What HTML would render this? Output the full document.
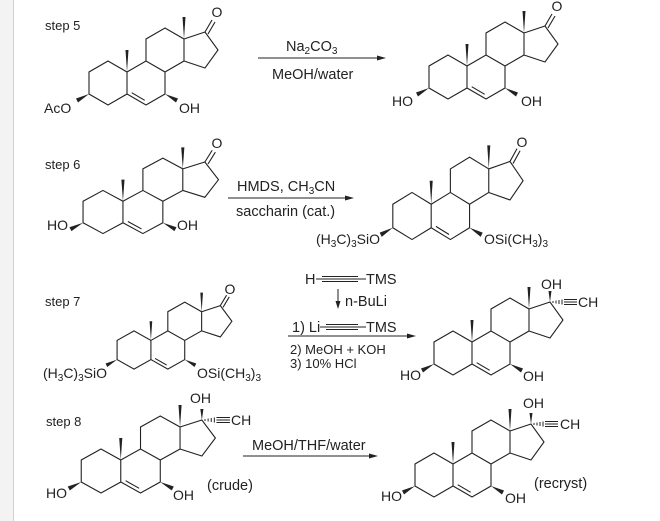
<!DOCTYPE html>
<html><head><meta charset="utf-8"><style>
html,body{margin:0;padding:0;background:#fff;}
svg{display:block;}
text{font-family:"Liberation Sans",Arial,sans-serif;font-size:14px;fill:#222;}
.r{font-size:14.5px;}
.r2{font-size:13px;}
.st{font-size:13px;}
.s{font-size:10px;}
</style></head><body>
<svg width="660" height="521" viewBox="0 0 660 521" xmlns="http://www.w3.org/2000/svg">
<rect x="0" y="0" width="13" height="521" fill="#f3f3f3"/>
<line x1="13.5" y1="0" x2="13.5" y2="521" stroke="#d0d0d0" stroke-width="1"/>
<defs>
<g id="core">
<path d="M0,-22 L-19,-11 L-19,11 L0,22 L19,11 L19,-11 Z M19,11 L38,22 L57,11 L57,-11 L38,-22 L19,-11 M38,-22 L38,-44 L57,-55 L76,-44 L76,-22 L57,-11 M76,-44 L97,-51 L110,-33 L97,-15 L76,-22 M23.7,9.7 L36.7,17.3" fill="none" stroke="#222" stroke-width="1.1" vector-effect="non-scaling-stroke"/>
<polygon points="19,-11 17.5,-33 20.5,-33" fill="#222"/>
<polygon points="76,-44 74.5,-66 77.5,-66" fill="#222"/>
<polygon points="-19,11 -32,15.5 -30,19.5" fill="#222"/>
<polygon points="57,11 68,19.5 70,15.5" fill="#222"/>
</g>
<g id="keto">
<path d="M97,-51 L104,-63 M100,-49 L107,-61" fill="none" stroke="#222" stroke-width="1.1" vector-effect="non-scaling-stroke"/>
</g>
<g id="ethy">
<polygon points="97,-51 95.5,-62 98.5,-62" fill="#222"/>
<path d="M100,-52 L100,-50 M103,-52.5 L103,-49.5 M106,-53 L106,-49 M109,-53.5 L109,-48.5 M111,-51 L124,-51 M111,-53.5 L124,-53.5 M111,-48.5 L124,-48.5" fill="none" stroke="#222" stroke-width="1" vector-effect="non-scaling-stroke"/>
</g>
</defs>

<!-- step 5 -->
<text class="st" x="45" y="30">step 5</text>
<use href="#core" transform="translate(108,83)"/>
<use href="#keto" transform="translate(108,83)"/>
<text x="217" y="17" text-anchor="middle">O</text>
<text x="44" y="113">AcO</text>
<text x="179" y="113">OH</text>
<text class="r" x="286" y="51">Na<tspan class="s" dy="3">2</tspan><tspan dy="-3">CO</tspan><tspan class="s" dy="3">3</tspan></text>
<line x1="258" y1="58" x2="380" y2="58" stroke="#222" stroke-width="1"/>
<polygon points="386,58 377,55.5 377,60.5" fill="#222"/>
<text class="r" x="272" y="79">MeOH/water</text>

<use href="#core" transform="translate(448,77)"/>
<use href="#keto" transform="translate(448,77)"/>
<text x="557" y="11" text-anchor="middle">O</text>
<text x="392" y="106">HO</text>
<text x="521" y="106">OH</text>

<!-- step 6 -->
<text class="st" x="45" y="169">step 6</text>
<use href="#core" transform="translate(103,212) scale(1.05,0.98)"/>
<use href="#keto" transform="translate(103,212) scale(1.05,0.98)"/>
<text x="217" y="148" text-anchor="middle">O</text>
<text x="47" y="230">HO</text>
<text x="177" y="230">OH</text>
<text class="r" x="237" y="191">HMDS, CH<tspan class="s" dy="3">3</tspan><tspan dy="-3">CN</tspan></text>
<line x1="228" y1="198" x2="348" y2="198" stroke="#222" stroke-width="1"/>
<polygon points="354,198 345,195.5 345,200.5" fill="#222"/>
<text class="r" x="236" y="216">saccharin (cat.)</text>

<use href="#core" transform="translate(412,216) scale(1.01,1.07)"/>
<use href="#keto" transform="translate(412,216) scale(1.01,1.07)"/>
<text x="522" y="147" text-anchor="middle">O</text>
<text x="380" y="244" text-anchor="end">(H<tspan class="s" dy="3">3</tspan><tspan dy="-3">C)</tspan><tspan class="s" dy="3">3</tspan><tspan dy="-3">SiO</tspan></text>
<text x="484" y="244">OSi(CH<tspan class="s" dy="3">3</tspan><tspan dy="-3">)</tspan><tspan class="s" dy="3">3</tspan></text>

<!-- step 7 -->
<text class="st" x="45" y="306">step 7</text>
<use href="#core" transform="translate(134,350) scale(0.89,0.87)"/>
<use href="#keto" transform="translate(134,350) scale(0.89,0.87)"/>
<text x="230" y="294" text-anchor="middle">O</text>
<text x="107" y="378" text-anchor="end">(H<tspan class="s" dy="3">3</tspan><tspan dy="-3">C)</tspan><tspan class="s" dy="3">3</tspan><tspan dy="-3">SiO</tspan></text>
<text x="197" y="378">OSi(CH<tspan class="s" dy="3">3</tspan><tspan dy="-3">)</tspan><tspan class="s" dy="3">3</tspan></text>

<text class="r" x="305" y="284">H</text>
<path d="M316,279 L366,279 M322,276.5 L358,276.5 M322,281.5 L358,281.5" stroke="#222" stroke-width="1" fill="none"/>
<text class="r" x="366" y="284">TMS</text>
<line x1="338" y1="289" x2="338" y2="303" stroke="#222" stroke-width="1"/>
<polygon points="338,309 335.5,301 340.5,301" fill="#222"/>
<text class="r" x="345" y="306">n-BuLi</text>
<text class="r" x="292" y="332">1) Li</text>
<path d="M320,327 L366,327 M326,324.5 L358,324.5 M326,329.5 L358,329.5" stroke="#222" stroke-width="1" fill="none"/>
<text class="r" x="366" y="332">TMS</text>
<line x1="288" y1="336" x2="410" y2="336" stroke="#222" stroke-width="1"/>
<polygon points="416,336 407,333.5 407,338.5" fill="#222"/>
<text class="r2" x="290" y="354">2)  MeOH +  KOH</text>
<text class="r2" x="290" y="368">3)  10% HCl</text>

<use href="#core" transform="translate(453,353)"/>
<use href="#ethy" transform="translate(453,353)"/>
<text x="541" y="289">OH</text>
<text x="578" y="307">CH</text>
<text x="400" y="380">HO</text>
<text x="523" y="381">OH</text>

<!-- step 8 -->
<text class="st" x="46" y="426">step 8</text>
<use href="#core" transform="translate(101,471) scale(1.04,1.0)"/>
<use href="#ethy" transform="translate(101,471) scale(1.04,1.0)"/>
<text x="190" y="403">OH</text>
<text x="231" y="425">CH</text>
<text x="46" y="498">HO</text>
<text x="173" y="500">OH</text>
<text class="r" x="207" y="490">(crude)</text>

<text class="r" x="252" y="450">MeOH/THF/water</text>
<line x1="243" y1="456" x2="372" y2="456" stroke="#222" stroke-width="1"/>
<polygon points="378,456 369,453.5 369,458.5" fill="#222"/>

<use href="#core" transform="translate(434,475)"/>
<use href="#ethy" transform="translate(434,475)"/>
<text x="523" y="408">OH</text>
<text x="560" y="429">CH</text>
<text x="381" y="501">HO</text>
<text x="505" y="503">OH</text>
<text class="r" x="534" y="488">(recryst)</text>
</svg>
</body></html>
